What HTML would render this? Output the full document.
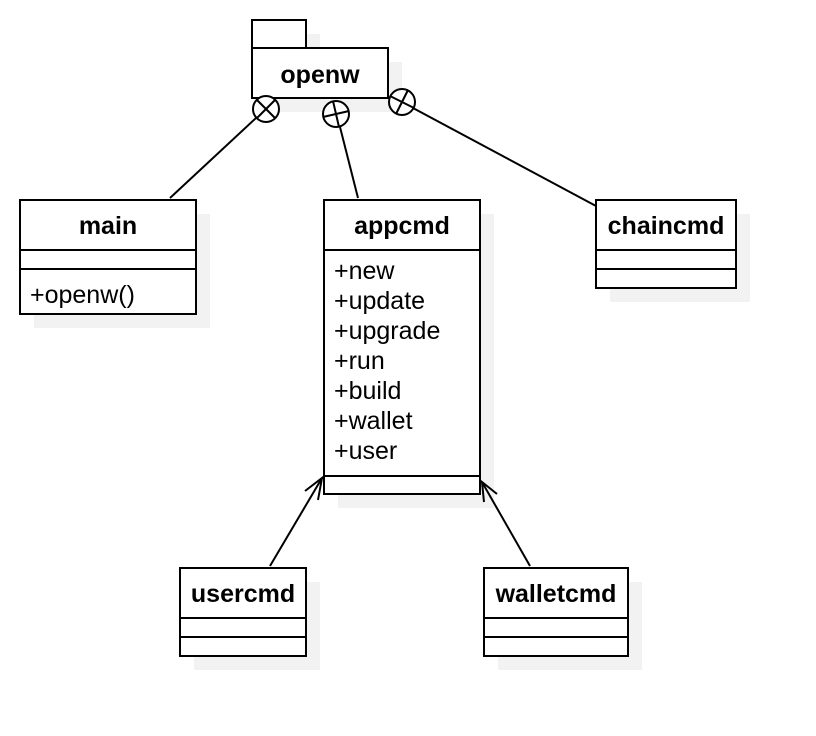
<!DOCTYPE html>
<html><head><meta charset="utf-8"><style>
html,body{margin:0;padding:0;background:#fff;}
svg{display:block;}
text{font-family:"Liberation Sans",Arial,sans-serif;fill:#000;}
.b{font-weight:bold;font-size:25px;}
.n{font-size:25px;}
</style></head><body>
<svg width="816" height="736" viewBox="0 0 816 736">
<g fill="#f2f2f2">
<rect x="266" y="34" width="54" height="28"/>
<rect x="266" y="62" width="136" height="50"/>
<rect x="34" y="214" width="176" height="114"/>
<rect x="338" y="214" width="156" height="294"/>
<rect x="610" y="214" width="140" height="88"/>
<rect x="194" y="582" width="126" height="88"/>
<rect x="498" y="582" width="144" height="88"/>
</g>
<g stroke="#000" stroke-width="2" fill="#fff">
<line x1="170" y1="198" x2="256" y2="118"/>
<line x1="358" y1="198" x2="340" y2="127"/>
<line x1="596" y1="206" x2="413" y2="108"/>
<line x1="270" y1="566" x2="322" y2="478"/>
<line x1="530" y1="566" x2="482" y2="482"/>
<polyline points="305,491 322,478 318,500" fill="none"/>
<polyline points="484,502 482,482 497,494" fill="none"/>
<rect x="252" y="20" width="54" height="28"/>
<rect x="252" y="48" width="136" height="50"/>
<circle cx="266" cy="109" r="13"/>
<line x1="257" y1="100" x2="275" y2="118"/><line x1="275" y1="100" x2="257" y2="118"/>
<circle cx="336" cy="114" r="13"/>
<line x1="323" y1="117" x2="349" y2="111"/><line x1="333" y1="101" x2="339" y2="127"/>
<circle cx="402" cy="102" r="13"/>
<line x1="390" y1="96" x2="414" y2="108"/><line x1="408" y1="90" x2="396" y2="114"/>
<rect x="20" y="200" width="176" height="114"/>
<line x1="20" y1="250" x2="196" y2="250"/><line x1="20" y1="269" x2="196" y2="269"/>
<rect x="324" y="200" width="156" height="294"/>
<line x1="324" y1="250" x2="480" y2="250"/><line x1="324" y1="476" x2="480" y2="476"/>
<rect x="596" y="200" width="140" height="88"/>
<line x1="596" y1="250" x2="736" y2="250"/><line x1="596" y1="269" x2="736" y2="269"/>
<rect x="180" y="568" width="126" height="88"/>
<line x1="180" y1="618" x2="306" y2="618"/><line x1="180" y1="637" x2="306" y2="637"/>
<rect x="484" y="568" width="144" height="88"/>
<line x1="484" y1="618" x2="628" y2="618"/><line x1="484" y1="637" x2="628" y2="637"/>
</g>
<text class="b" x="320" y="83" text-anchor="middle">openw</text>
<text class="b" x="108" y="234" text-anchor="middle">main</text>
<text class="n" x="30" y="303">+openw()</text>
<text class="b" x="402" y="234" text-anchor="middle">appcmd</text>
<text class="n" x="334" y="279">+new</text>
<text class="n" x="334" y="309">+update</text>
<text class="n" x="334" y="339">+upgrade</text>
<text class="n" x="334" y="369">+run</text>
<text class="n" x="334" y="399">+build</text>
<text class="n" x="334" y="429">+wallet</text>
<text class="n" x="334" y="459">+user</text>
<text class="b" x="666" y="234" text-anchor="middle">chaincmd</text>
<text class="b" x="243" y="602" text-anchor="middle">usercmd</text>
<text class="b" x="556" y="602" text-anchor="middle">walletcmd</text>
</svg>
</body></html>
